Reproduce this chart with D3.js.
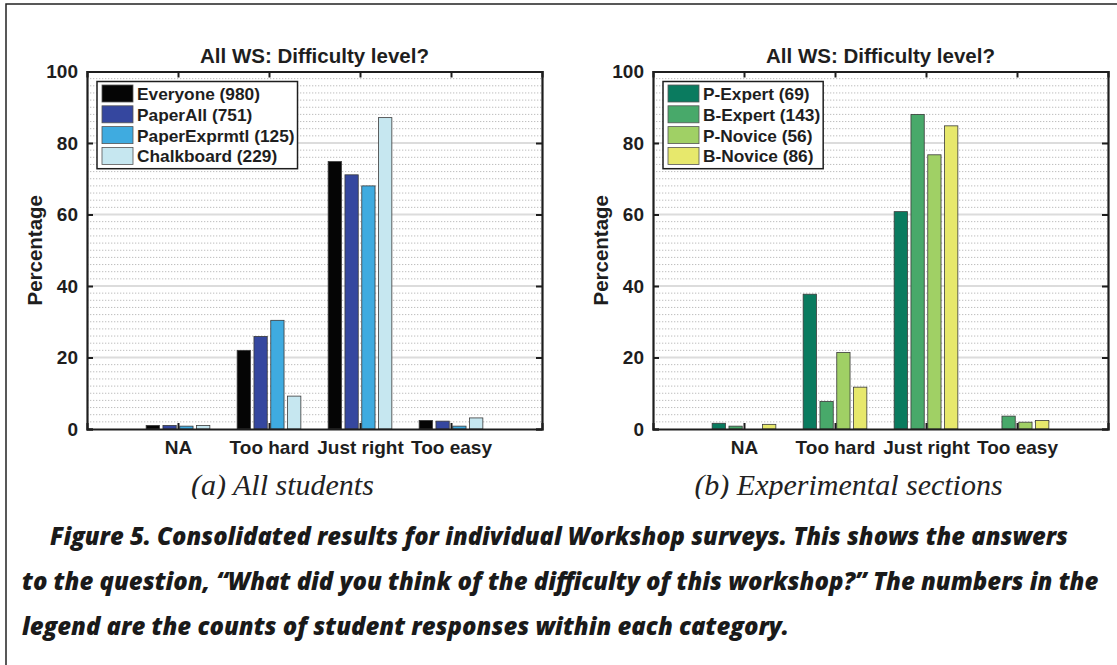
<!DOCTYPE html>
<html>
<head>
<meta charset="utf-8">
<script src="https://cdn.jsdelivr.net/npm/d3@7"></script>
<style>
  body { margin: 0; background: #fff; }
  svg { display: block; }
</style>
</head>
<body>
<div id="figure"></div>
<script>
// categories on the x axis
const categories = ["NA", "Too hard", "Just right", "Too easy"];
const yTicks = [0, 20, 40, 60, 80, 100];

// panel (a): all students
const leftNames = ["Everyone (980)", "PaperAll (751)", "PaperExprmtl (125)", "Chalkboard (229)"];
const leftColors = ["#050505", "#35479f", "#3fabe0", "#c6e7f0"];
const everyone = [1.0, 22.0, 74.8, 2.4];
const paperAll = [1.0, 25.9, 71.1, 2.2];
const paperExprmtl = [0.8, 30.4, 68.0, 0.8];
const chalkboard = [1.0, 9.2, 87.1, 3.1];

// panel (b): experimental sections
const rightNames = ["P-Expert (69)", "B-Expert (143)", "P-Novice (56)", "B-Novice (86)"];
const rightColors = ["#0a7b5f", "#48a96a", "#a0d065", "#e7e86c"];
const pExpert = [1.6, 37.7, 60.8, 0];
const bExpert = [0.8, 7.7, 88.0, 3.6];
const pNovice = [0, 21.4, 76.7, 1.9];
const bNovice = [1.3, 11.7, 84.8, 2.4];

const titleText = "All WS: Difficulty level?";
const captionLines = [
  "Figure 5. Consolidated results for individual Workshop surveys. This shows the answers",
  "to the question, \u201cWhat did you think of the difficulty of this workshop?\u201d The numbers in the",
  "legend are the counts of student responses within each category."
];

const W = 1117, H = 665;
const sans = "'Liberation Sans', Arial, sans-serif";
const svg = d3.select("#figure").append("svg")
  .attr("width", W).attr("height", H);

// clip for the sub captions (their lower edge is cut in the figure)
svg.append("defs").append("clipPath").attr("id", "subclip")
  .append("rect").attr("x", 0).attr("y", 0).attr("width", W).attr("height", 499);

// outer frame (top and left edges visible)
svg.append("rect")
  .attr("x", 6).attr("y", 4)
  .attr("width", W + 20).attr("height", H + 20)
  .attr("fill", "none").attr("stroke", "#222").attr("stroke-width", 1.5);

function drawPanel(left, names, colors, seriesValues, subcaption) {
  const top = 71.5, bottom = 429, right = left + 455;

  const x = d3.scaleLinear().domain([0, 5]).range([left, right]);
  const y = d3.scaleLinear().domain([0, 100]).range([bottom, top]);
  // position of each series inside a group
  const inner = d3.scaleBand().domain(d3.range(names.length))
    .range([-0.35, 0.35]).paddingInner(0.21);

  const g = svg.append("g");

  // minor dotted grid every 2 units
  g.append("g").selectAll("line")
    .data(d3.range(2, 100, 2).filter(v => v % 20 !== 0))
    .join("line")
    .attr("x1", left).attr("x2", right)
    .attr("y1", d => y(d)).attr("y2", d => y(d))
    .attr("stroke", "#bdbdbd").attr("stroke-width", 1)
    .attr("stroke-dasharray", "1.3,1.7");

  // major grid
  g.append("g").selectAll("line")
    .data(yTicks.slice(1, -1))
    .join("line")
    .attr("x1", left).attr("x2", right)
    .attr("y1", d => y(d)).attr("y2", d => y(d))
    .attr("stroke", "#dcdcdc").attr("stroke-width", 2);

  // bars
  seriesValues.forEach((vals, s) => {
    g.append("g").selectAll("rect")
      .data(vals)
      .join("rect")
      .attr("x", (d, i) => x(i + 1 + inner(s)))
      .attr("width", x(inner.bandwidth()) - x(0))
      .attr("y", d => y(d))
      .attr("height", d => y(0) - y(d))
      .attr("fill", colors[s])
      .attr("stroke", "#3a3a3a").attr("stroke-width", 0.8);
  });

  // axes box with inward ticks
  const axisG = g.append("g");
  axisG.append("g").attr("transform", `translate(0,${bottom})`)
    .call(d3.axisBottom(x).tickValues([1, 2, 3, 4]).tickSize(-6).tickFormat((d) => categories[d - 1]).tickPadding(12));
  axisG.append("g").attr("transform", `translate(0,${top})`)
    .call(d3.axisTop(x).tickValues([1, 2, 3, 4]).tickSize(-6).tickFormat(""));
  axisG.append("g").attr("transform", `translate(${left},0)`)
    .call(d3.axisLeft(y).tickValues(yTicks).tickSize(-6).tickPadding(9));
  axisG.append("g").attr("transform", `translate(${right},0)`)
    .call(d3.axisRight(y).tickValues(yTicks).tickSize(-6).tickFormat(""));
  axisG.selectAll(".domain").attr("stroke", "#1e1e1e").attr("stroke-width", 2.2);
  axisG.selectAll(".tick line").attr("stroke", "#1e1e1e").attr("stroke-width", 2);
  axisG.selectAll(".tick text")
    .attr("fill", "#1e1e1e")
    .style("font-family", sans)
    .style("font-weight", "bold")
    .style("font-size", "19px");

  // title
  g.append("text")
    .attr("x", (left + right) / 2).attr("y", 63)
    .attr("text-anchor", "middle")
    .style("font-family", sans)
    .style("font-weight", "bold").style("font-size", "20.5px")
    .attr("fill", "#1e1e1e")
    .text(titleText);

  // y label
  g.append("text")
    .attr("transform", `translate(${left - 45},${(top + bottom) / 2}) rotate(-90)`)
    .attr("text-anchor", "middle")
    .style("font-family", sans)
    .style("font-weight", "bold").style("font-size", "20.5px")
    .attr("fill", "#1e1e1e")
    .text("Percentage");

  // legend
  const lg = g.append("g").attr("transform", `translate(${left + 10},${top + 10})`);
  const rowH = 20.8;
  const box = lg.append("rect")
    .attr("height", names.length * rowH + 4)
    .attr("fill", "#fff").attr("stroke", "#1e1e1e").attr("stroke-width", 1.5);
  const rows = lg.selectAll("g.row").data(names).join("g")
    .attr("class", "row")
    .attr("transform", (d, i) => `translate(5,${3.5 + i * rowH})`);
  rows.append("rect")
    .attr("width", 31).attr("height", 17)
    .attr("fill", (d, i) => colors[i])
    .attr("stroke", "#555").attr("stroke-width", 0.8);
  rows.append("text")
    .attr("x", 35).attr("y", 15)
    .style("font-family", sans)
    .style("font-weight", "bold").style("font-size", "17.3px")
    .attr("fill", "#1e1e1e")
    .text(d => d);
  // fit legend box to text
  const maxW = d3.max(rows.selectAll("text").nodes(), n => n.getComputedTextLength());
  box.attr("width", maxW + 43);

  // sub caption
  g.append("text")
    .attr("clip-path", "url(#subclip)")
    .attr("x", (left + right) / 2 - 32).attr("y", 495)
    .attr("text-anchor", "middle")
    .style("font-family", "'Liberation Serif', 'Times New Roman', serif")
    .style("font-style", "italic").style("font-size", "30px")
    .attr("fill", "#222")
    .text(subcaption);
}

drawPanel(87, leftNames, leftColors, [everyone, paperAll, paperExprmtl, chalkboard], "(a) All students");
drawPanel(653, rightNames, rightColors, [pExpert, bExpert, pNovice, bNovice], "(b) Experimental sections");

// figure caption: font sized from the full second line, first line fitted, last line natural
const capX = [50, 22, 22];
const capW = [1018, 1077];
const cap = svg.append("g").selectAll("text")
  .data(captionLines)
  .join("text")
  .attr("x", (d, i) => capX[i])
  .attr("y", (d, i) => 545 + i * 45)
  .style("font-family", "'Open Sans', Lato, sans-serif")
  .style("font-weight", "800").style("font-style", "italic")
  .style("font-size", "20px")
  .attr("fill", "#1a1a1a")
  .text(d => d);
const line2W = cap.nodes()[1].getComputedTextLength();
cap.style("font-size", (20 * capW[1] / line2W) + "px");
cap.filter((d, i) => i === 0)
  .attr("textLength", capW[0])
  .attr("lengthAdjust", "spacingAndGlyphs");
</script>
</body>
</html>
